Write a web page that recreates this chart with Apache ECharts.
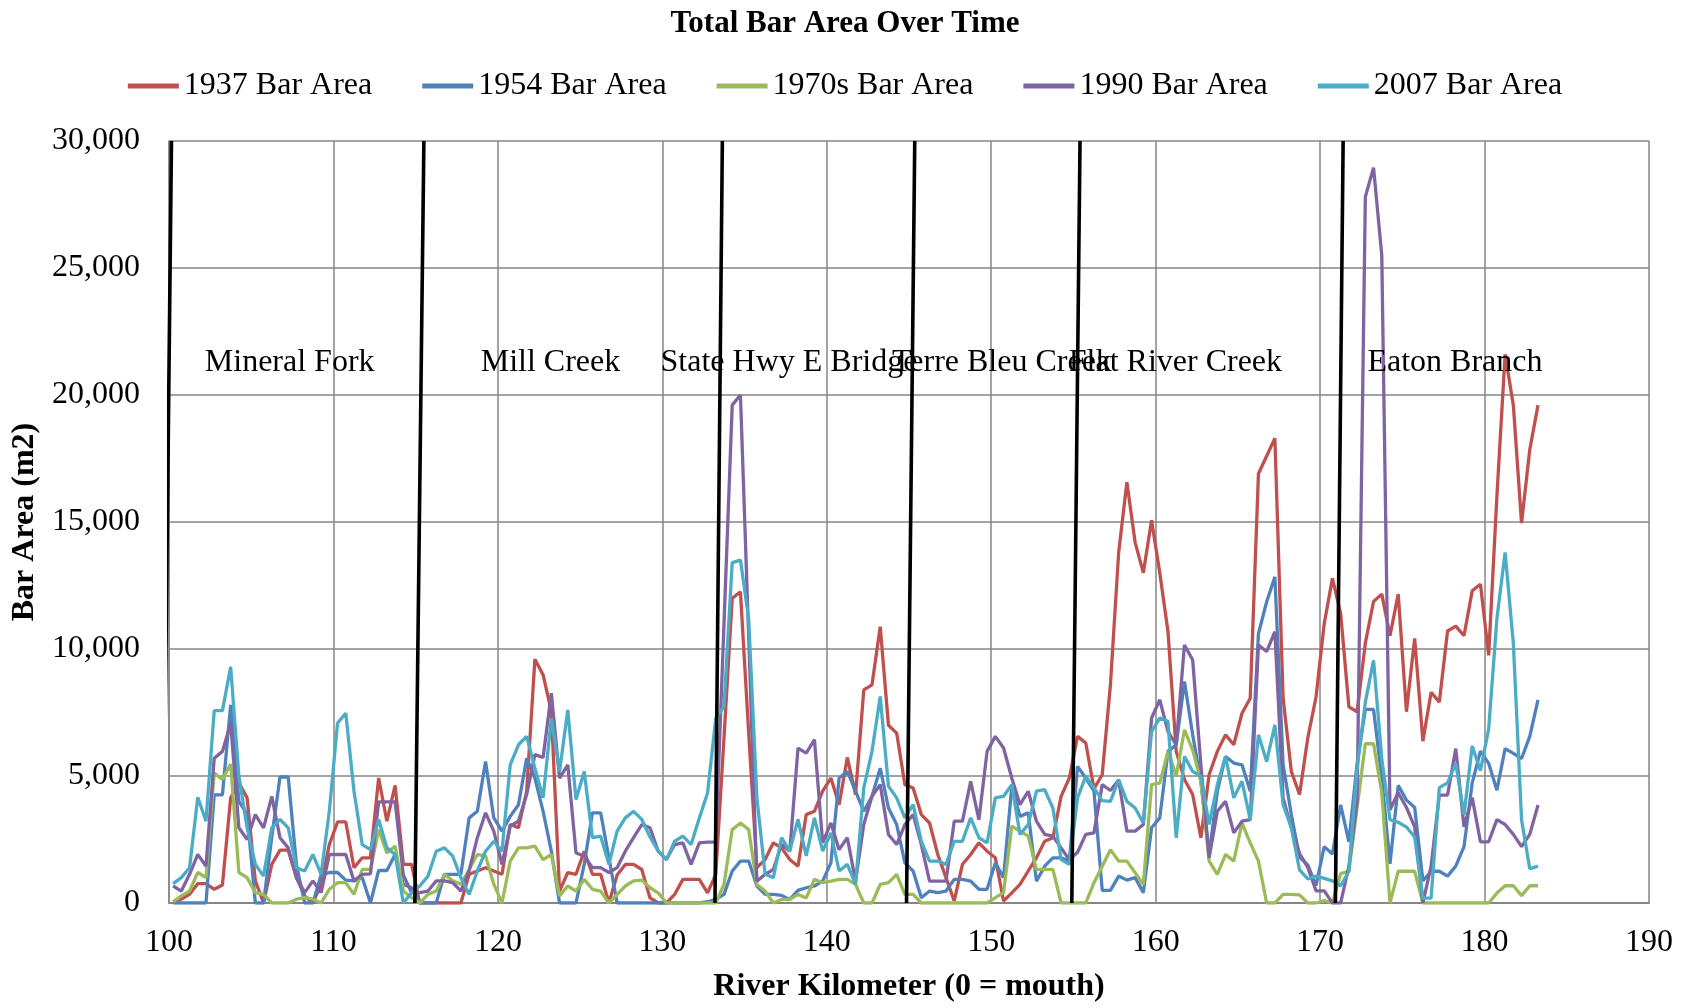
<!DOCTYPE html>
<html>
<head>
<meta charset="utf-8">
<script src="https://cdn.jsdelivr.net/npm/echarts@6/dist/echarts.min.js"></script>
<style>html,body{margin:0;padding:0;background:#fff;}#c{width:1690px;height:1008px;}</style>
</head>
<body>
<div id="c"></div>
<script>
// River km of the first sample and spacing between samples
const kmStart = 100.25;
const kmStep = 0.5;

// Bar area values, in thousands of m2, one per sample
const area1937 = [
0.05,0.15,0.34,0.76,0.76,0.54,0.71,4.14,4.73,4.14,
0.87,0,1.52,2.08,2.08,1.0,0.28,0,0.74,2.3,
3.19,3.19,1.39,1.78,1.78,4.92,3.22,4.63,1.52,1.52,
0,0,0,0,0,0,1.13,1.26,1.39,1.26,
1.13,3.09,2.96,4.4,9.6,8.98,7.54,0.47,1.2,1.13,
2.04,1.13,1.13,0,1.1,1.52,1.52,1.32,0.2,0,
0,0.34,0.93,0.93,0.93,0.4,1.13,6.5,12.0,12.25,
6.7,1.39,1.71,2.37,2.17,1.71,1.45,3.48,3.61,4.4,
4.92,3.87,5.73,4.27,8.39,8.59,10.88,7.0,6.69,4.66,
4.53,3.48,3.15,1.91,1.0,0.08,1.52,1.91,2.37,2.04,
1.78,0.08,0.4,0.73,1.26,1.78,2.43,2.57,4.2,4.92,
6.56,6.3,4.5,5.05,8.6,13.8,16.57,14.2,13.0,15.07,
13.0,10.68,5.97,4.86,4.27,2.57,5.05,5.97,6.62,6.23,
7.47,8.06,16.9,17.6,18.3,8.06,5.18,4.27,6.5,8.1,
11.0,12.78,11.39,7.72,7.53,10.23,11.87,12.16,10.52,12.16,
7.53,10.42,6.37,8.3,7.91,10.71,10.9,10.52,12.29,12.55,
9.75,16.0,21.6,19.6,14.96,17.85,19.6];

const area1954 = [
0,0,0,0,0,4.26,4.26,7.8,4.0,3.5,
0,0,2.6,4.96,4.96,1.5,0,0,1.1,1.2,
1.2,0.9,0.87,1.0,0,1.28,1.28,1.91,0.74,0.6,
0,0,0,1.13,1.13,1.13,3.35,3.61,5.57,3.35,
2.83,3.41,3.87,5.7,4.92,3.61,2.04,0,0,0,
1.52,3.55,3.55,1.78,0,0,0,0,0,0,
0,0,0,0,0,0.05,0.14,0.34,1.26,1.65,
1.65,0.67,0.34,0.34,0.3,0.14,0.5,0.6,0.67,0.86,
1.58,4.92,5.18,4.4,3.61,4.2,5.31,3.74,3.09,1.58,
1.26,0.21,0.47,0.41,0.47,0.93,0.93,0.86,0.54,0.54,
1.58,1.0,4.59,3.41,3.55,0.86,1.45,1.78,1.78,1.65,
5.38,4.92,4.4,0.5,0.5,1.06,0.9,1.0,0.41,2.96,
3.35,5.97,6.23,8.72,6.62,4.79,1.91,4.4,5.77,5.51,
5.44,4.4,10.6,11.86,12.84,5.44,3.48,1.8,1.5,0.68,
2.22,1.93,3.86,2.41,5.5,7.62,7.62,4.92,1.54,4.63,
4.05,3.76,0.87,1.25,1.25,1.06,1.45,2.22,4.73,5.98,
5.5,4.44,6.08,5.89,5.69,6.56,8.0];

const area1970s = [
0.05,0.28,0.47,1.2,1.0,5.12,4.86,5.47,1.2,1.0,
0.41,0.34,0,0,0,0.15,0.21,0.15,0,0.54,
0.8,0.8,0.34,1.32,1.32,2.89,1.97,2.24,0.47,0.21,
0,0.34,0.47,1.13,0.87,0.74,1.32,1.91,1.85,0.74,
0,1.65,2.17,2.17,2.24,1.71,1.91,0.28,0.67,0.47,
0.93,0.54,0.47,0,0.34,0.67,0.87,0.9,0.6,0.4,
0,0,0,0,0,0,0,0.73,2.89,3.15,
2.89,0.73,0.47,0,0.14,0.14,0.34,0.2,0.93,0.8,
0.86,0.93,0.93,0.73,0,0,0.73,0.8,1.13,0.34,
0.34,0,0,0,0,0,0,0,0,0,
0.21,0.41,3.02,2.83,2.63,1.32,1.32,1.32,0,0,
0,0,0.8,1.45,2.1,1.65,1.65,1.19,0.73,4.66,
4.72,5.97,5.0,6.82,6.03,4.79,1.65,1.13,1.91,1.65,
3.15,2.37,1.65,0,0,0.34,0.34,0.32,0,0,
0.1,0,1.16,1.25,3.76,6.27,6.27,4.34,0,1.25,
1.25,1.25,0,0,0,0,0,0,0,0,
0,0.39,0.68,0.68,0.29,0.68,0.68];

const area1990 = [
0.67,0.47,1.13,1.91,1.45,5.7,5.97,7.08,2.96,2.5,
3.48,2.96,4.2,2.57,2.17,1.0,0.41,0.87,0.41,1.91,
1.91,1.91,0.87,1.13,1.15,3.98,3.98,3.98,1.1,0.41,
0.41,0.47,0.87,0.87,0.8,0.47,1.26,2.57,3.55,2.83,
1.52,3.03,3.22,4.27,5.84,5.73,8.26,4.92,5.44,1.97,
1.85,1.39,1.39,1.2,1.39,2.04,2.57,3.09,2.96,2.04,
1.71,2.3,2.37,1.52,2.37,2.4,2.4,11.0,19.6,20.0,
10.5,0.86,1.13,1.32,2.3,2.04,6.1,5.9,6.43,2.37,
3.15,2.1,2.57,0.86,3.09,4.2,4.66,2.7,2.3,3.09,
3.48,2.3,0.86,0.86,0.86,3.22,3.22,4.79,3.28,5.97,
6.56,6.1,4.92,3.87,4.4,3.22,2.7,2.63,2.17,1.7,
2.0,2.7,2.76,4.66,4.43,4.84,2.83,2.83,3.09,7.28,
8.0,6.75,6.23,10.16,9.57,5.44,1.78,3.61,4.0,2.76,
3.22,3.28,10.16,9.9,10.68,4.14,2.96,1.95,1.4,0.48,
0.48,0,0,1.45,4.0,27.8,28.95,25.5,3.67,4.34,
3.76,3.0,0,1.45,4.25,4.25,6.08,3.0,4.15,2.41,
2.41,3.28,3.09,2.7,2.22,2.7,3.86];

const area2007 = [
0.76,1.0,1.39,4.16,3.22,7.57,7.57,9.3,5.0,2.96,
1.52,1.06,2.96,3.29,2.96,1.39,1.26,1.91,1.13,3.61,
7.08,7.47,4.4,2.3,2.1,3.29,2.17,1.91,0,0.4,
0.67,1.06,2.04,2.17,1.85,1.0,0.34,1.26,2.04,2.43,
2.04,5.44,6.23,6.56,5.31,4.14,7.28,5.18,7.6,4.07,
5.18,2.57,2.63,1.52,2.83,3.35,3.61,3.29,2.6,2.04,
1.71,2.43,2.63,2.3,3.35,4.33,7.28,7.73,13.4,13.5,
11.2,4.14,1.13,1.0,2.57,2.04,3.29,1.85,3.35,2.04,
2.76,1.26,1.52,0.73,4.53,5.97,8.13,4.6,4.14,3.35,
3.87,2.43,1.65,1.65,1.52,2.43,2.43,3.35,2.57,2.37,
4.14,4.2,4.66,2.7,3.09,4.4,4.46,3.74,1.71,1.52,
4.14,4.99,4.53,4.03,4.0,4.86,4.0,3.74,3.15,6.75,
7.28,7.15,2.57,5.77,5.18,4.99,3.09,4.66,5.77,4.14,
4.79,3.28,6.62,5.57,7.01,3.87,2.96,1.3,0.95,1.06,
0.97,0.87,0.68,1.25,5.31,7.91,9.55,5.69,3.28,3.18,
2.99,2.6,0.19,0.19,4.54,4.73,5.5,3.47,6.18,5.21,
6.85,11.19,13.8,10.23,3.28,1.35,1.45];

// Tributary / landmark marker lines (km at bottom and at top of the axis)
const markerBottomKm = [99.65, 114.95, 133.2, 144.85, 154.9, 170.93];
const markerTopKm    = [100.15, 115.5, 133.65, 145.35, 155.4, 171.4];

// Landmark labels
const landmarkNames = ['Mineral Fork','Mill Creek','State Hwy E Bridge','Terre Bleu Creek','Flat River Creek','Eaton Branch'];
const landmarkKm    = [107.34, 123.2, 137.7, 150.65, 161.2, 178.2];
const landmarkArea  = [21270, 21270, 21270, 21270, 21270, 21270];

const seriesNames  = ['1937 Bar Area','1954 Bar Area','1970s Bar Area','1990 Bar Area','2007 Bar Area'];
const seriesValues = [area1937, area1954, area1970s, area1990, area2007];
const seriesColors = ['#C0504D','#4F81BD','#9BBB59','#8064A2','#4BACC6'];

const FONT = 'Liberation Serif';
const fmt = v => String(v).replace(/\B(?=(\d{3})+(?!\d))/g, ',');

const series = [];
seriesValues.forEach((arr, s) => {
  series.push({
    name: seriesNames[s],
    type: 'line',
    showSymbol: false,
    symbol: 'none',
    color: seriesColors[s],
    lineStyle: { width: 3.3, color: seriesColors[s] },
    z: 2 + s,
    data: arr.map((v, i) => [kmStart + i * kmStep, v * 1000])
  });
});
markerBottomKm.forEach((b, k) => {
  series.push({
    type: 'line',
    showSymbol: false,
    symbol: 'none',
    clip: false,
    z: 10,
    lineStyle: { width: 3.6, color: '#000' },
    data: [[b, 0], [markerTopKm[k], 30000]]
  });
});
series.push({
  type: 'scatter',
  symbolSize: 0,
  z: 11,
  itemStyle: { opacity: 1 },
  label: {
    show: true, position: 'inside', formatter: p => p.data[2],
    fontFamily: FONT, fontSize: 32, color: '#000', textBorderWidth: 0, opacity: 1
  },
  data: landmarkKm.map((x, k) => [x, landmarkArea[k], landmarkNames[k]])
});

const chart = echarts.init(document.getElementById('c'));
chart.setOption({
  animation: false,
  backgroundColor: '#fff',
  title: {
    text: 'Total Bar Area Over Time',
    left: 'center', top: 8, padding: 0,
    textStyle: { fontFamily: FONT, fontSize: 31, fontWeight: 'bold', color: '#000' }
  },
  legend: {
    data: seriesNames,
    left: 'center', top: 70, padding: 0,
    itemWidth: 51, itemHeight: 5, itemGap: 50,
    icon: 'rect',
    textStyle: { fontFamily: FONT, fontSize: 32, color: '#000' }
  },
  grid: { left: 169, top: 141, width: 1480, height: 764, containLabel: false },
  xAxis: {
    type: 'value', min: 100, max: 190, interval: 10,
    name: 'River Kilometer (0 = mouth)', nameLocation: 'middle', nameGap: 68,
    nameTextStyle: { fontFamily: FONT, fontSize: 32, fontWeight: 'bold', color: '#000' },
    axisLine: { show: true, lineStyle: { color: '#868686', width: 2 } },
    axisTick: { show: false },
    splitLine: { show: true, lineStyle: { color: '#868686', width: 1.5 } },
    axisLabel: { fontFamily: FONT, fontSize: 32, color: '#000', margin: 24 }
  },
  yAxis: {
    type: 'value', min: 0, max: 30000, interval: 5000,
    name: 'Bar Area (m2)', nameLocation: 'middle', nameGap: 117,
    nameTextStyle: { fontFamily: FONT, fontSize: 32, fontWeight: 'bold', color: '#000' },
    axisLine: { show: true, lineStyle: { color: '#868686', width: 1.5 } },
    axisTick: { show: false },
    splitLine: { show: true, lineStyle: { color: '#868686', width: 1.5 } },
    axisLabel: { fontFamily: FONT, fontSize: 32, color: '#000', margin: 29, formatter: fmt, padding: [4, 0, 0, 0] }
  },
  series: series
});
</script>
</body>
</html>
